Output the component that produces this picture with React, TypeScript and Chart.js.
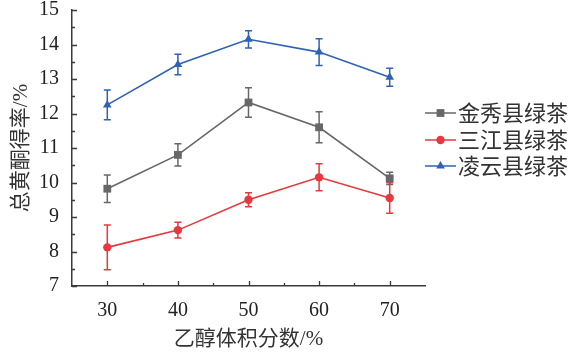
import React, { useEffect, useRef } from 'react';
import { Chart, registerables } from 'chart.js';

Chart.register(...registerables);

const ethanol = [30, 40, 50, 60, 70];
const seriesNames = ['金秀县绿茶', '三江县绿茶', '凌云县绿茶'];
const jinxiu = [9.82, 10.8, 12.32, 11.6, 10.12];
const jinxiuErr = [0.4, 0.32, 0.43, 0.45, 0.18];
const sanjiang = [8.12, 8.62, 9.5, 10.15, 9.55];
const sanjiangErr = [0.65, 0.23, 0.2, 0.39, 0.44];
const lingyun = [12.25, 13.42, 14.15, 13.78, 13.05];
const lingyunErr = [0.43, 0.3, 0.25, 0.39, 0.26];
const yTickValues = [7, 8, 9, 10, 11, 12, 13, 14, 15];
const xMinorValues = [35, 45, 55, 65];
const yMinorValues = [7.5, 8.5, 9.5, 10.5, 11.5, 12.5, 13.5, 14.5];

const colors = ['#676767', '#e8383d', '#2f62b5'];
const shapes = ['rect', 'circle', 'triangle'];
const radii = [5.5, 4.2, 5];
const allValues = [jinxiu, sanjiang, lingyun];
const allErrs = [jinxiuErr, sanjiangErr, lingyunErr];

const AXIS_COLOR = '#3a3a3a';
const SERIF = "'Liberation Serif', 'Times New Roman', 'Noto Sans CJK SC', serif";

const errorBarPlugin = {
  id: 'errorBars',
  beforeDatasetsDraw(chart: any) {
    const ctx = chart.ctx;
    const xs = chart.scales.x;
    const ys = chart.scales.y;
    ctx.save();
    chart.data.datasets.forEach((ds: any, i: number) => {
      const errs = allErrs[i];
      ctx.strokeStyle = colors[i];
      ctx.lineWidth = 1.5;
      ds.data.forEach((p: any, j: number) => {
        const x = xs.getPixelForValue(p.x);
        const yt = ys.getPixelForValue(p.y + errs[j]);
        const yb = ys.getPixelForValue(p.y - errs[j]);
        ctx.beginPath();
        ctx.moveTo(x, yt);
        ctx.lineTo(x, yb);
        ctx.moveTo(x - 3.5, yt);
        ctx.lineTo(x + 3.5, yt);
        ctx.moveTo(x - 3.5, yb);
        ctx.lineTo(x + 3.5, yb);
        ctx.stroke();
      });
    });
    ctx.restore();
  },
};

function drawMarker(ctx: CanvasRenderingContext2D, shape: string, x: number, y: number, r: number, color: string) {
  ctx.fillStyle = color;
  ctx.beginPath();
  if (shape === 'rect') {
    const s = r * Math.SQRT1_2;
    ctx.rect(x - s, y - s, 2 * s, 2 * s);
  } else if (shape === 'circle') {
    ctx.arc(x, y, r, 0, Math.PI * 2);
  } else {
    ctx.moveTo(x, y - r);
    ctx.lineTo(x + r * 0.866, y + r * 0.5);
    ctx.lineTo(x - r * 0.866, y + r * 0.5);
    ctx.closePath();
  }
  ctx.fill();
}

const axisTicksAndLegendPlugin = {
  id: 'axisTicksLegend',
  afterDraw(chart: any) {
    const ctx = chart.ctx;
    const xs = chart.scales.x;
    const ys = chart.scales.y;
    const area = chart.chartArea;
    ctx.save();
    ctx.strokeStyle = AXIS_COLOR;
    ctx.lineWidth = 1.3;
    ctx.beginPath();
    yTickValues.forEach((v) => {
      const y = Math.round(ys.getPixelForValue(v)) + 0.5;
      ctx.moveTo(area.left, y);
      ctx.lineTo(area.left + 5, y);
    });
    yMinorValues.forEach((v) => {
      const y = Math.round(ys.getPixelForValue(v)) + 0.5;
      ctx.moveTo(area.left, y);
      ctx.lineTo(area.left + 3, y);
    });
    ethanol.forEach((v) => {
      const x = Math.round(xs.getPixelForValue(v)) + 0.5;
      ctx.moveTo(x, area.bottom);
      ctx.lineTo(x, area.bottom - 5);
    });
    xMinorValues.forEach((v) => {
      const x = Math.round(xs.getPixelForValue(v)) + 0.5;
      ctx.moveTo(x, area.bottom);
      ctx.lineTo(x, area.bottom - 3);
    });
    ctx.stroke();

    // legend
    const lx = area.right;
    const rowY = [113, 140, 166];
    seriesNames.forEach((name, i) => {
      const y = rowY[i];
      ctx.strokeStyle = colors[i];
      ctx.lineWidth = 1.5;
      ctx.beginPath();
      ctx.moveTo(lx, y);
      ctx.lineTo(lx + 31, y);
      ctx.stroke();
      drawMarker(ctx, shapes[i], lx + 15.5, y, radii[i], colors[i]);
      ctx.fillStyle = '#333';
      ctx.font = "22px 'Noto Sans CJK SC', sans-serif";
      ctx.textBaseline = 'middle';
      ctx.textAlign = 'left';
      ctx.fillText(name, lx + 33, y);
    });
    ctx.restore();
  },
};

export default function App() {
  const ref = useRef<HTMLCanvasElement>(null);
  useEffect(() => {
    document.body.style.margin = '0';
    const canvas = ref.current;
    if (!canvas) return;
    const chart = new Chart(canvas, {
      type: 'line',
      data: {
        datasets: seriesNames.map((name, i) => ({
          label: name,
          data: ethanol.map((x, j) => ({ x, y: allValues[i][j] })),
          borderColor: colors[i],
          backgroundColor: colors[i],
          borderWidth: 1.6,
          pointStyle: shapes[i] as any,
          pointRadius: radii[i],
          pointBorderWidth: 0,
          pointBackgroundColor: colors[i],
          tension: 0,
        })),
      },
      options: {
        responsive: false,
        animation: false,
        devicePixelRatio: 1,
        layout: { padding: { top: 10, right: 145, left: 0, bottom: 0 } },
        plugins: { legend: { display: false }, tooltip: { enabled: false } },
        scales: {
          x: {
            type: 'linear',
            min: 25,
            max: 75,
            afterBuildTicks: (s: any) => {
              s.ticks = ethanol.map((v) => ({ value: v }));
            },
            afterFit: (s: any) => {
              s.height = 69;
              s.paddingLeft = 0;
              s.paddingRight = 0;
            },
            grid: { display: false, drawTicks: false },
            border: { display: true, color: AXIS_COLOR, width: 1.5 },
            ticks: {
              color: '#222',
              padding: 15,
              font: { family: SERIF, size: 20, lineHeight: 1 },
            },
            title: {
              display: true,
              text: '乙醇体积分数/%',
              color: '#333',
              font: { family: SERIF, size: 21 },
              padding: { top: 0, bottom: 3 },
            },
          },
          y: {
            min: 7,
            max: 15,
            afterBuildTicks: (s: any) => {
              s.ticks = yTickValues.map((v) => ({ value: v }));
            },
            afterFit: (s: any) => {
              s.width = 72;
              s.paddingTop = 0;
              s.paddingBottom = 0;
            },
            grid: { display: false, drawTicks: false },
            border: { display: true, color: AXIS_COLOR, width: 1.5 },
            ticks: {
              color: '#222',
              padding: 13,
              font: { family: SERIF, size: 20, lineHeight: 1 },
            },
            title: {
              display: true,
              text: '总黄酮得率/%',
              color: '#333',
              font: { family: SERIF, size: 21 },
              padding: { top: 9, bottom: 0 },
            },
          },
        },
      },
      plugins: [errorBarPlugin, axisTicksAndLegendPlugin],
    });
    return () => chart.destroy();
  }, []);
  return (
    <div style={{ width: 570, height: 355, background: '#fff' }}>
      <canvas ref={ref} width={570} height={355} style={{ display: 'block' }} />
    </div>
  );
}
